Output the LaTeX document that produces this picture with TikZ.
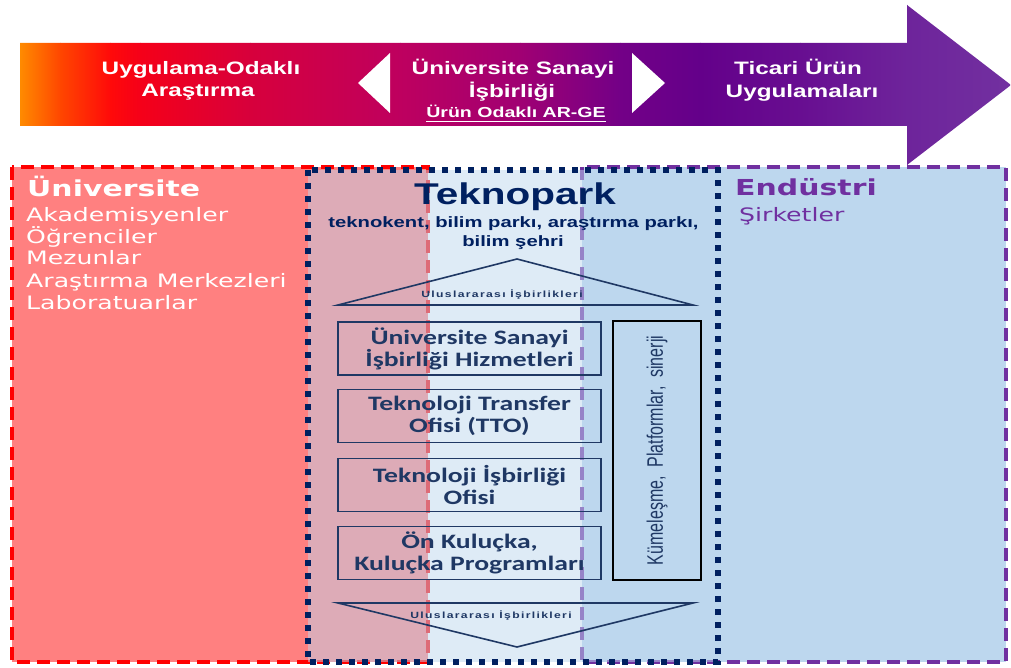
\documentclass[tikz,border=0pt]{standalone}
\usepackage{fontspec}
\usepackage{graphicx}
\setmainfont{Liberation Sans}
\newfontfamily\arialS{Liberation Sans}[FakeStretch=1.35]
\newfontfamily\verdS{DejaVu Sans}[FakeStretch=1.36]
\newfontfamily\calS{Carlito}[FakeStretch=1.35]
\newfontfamily\arialN{Liberation Sans}
\newfontfamily\arialT{Liberation Sans}[FakeStretch=1.35,LetterSpace=15]
\definecolor{navyc}{HTML}{002060}
\definecolor{boxnavy}{HTML}{1F3864}
\definecolor{purp}{HTML}{7030A0}
\definecolor{salmon}{HTML}{FF8080}
\definecolor{lblue}{HTML}{BDD7EE}
\definecolor{g0}{RGB}{255,140,0}
\definecolor{g1}{RGB}{255,70,0}
\definecolor{g2}{RGB}{255,10,10}
\definecolor{g3}{RGB}{245,0,25}
\definecolor{g4}{RGB}{215,0,60}
\definecolor{g5}{RGB}{190,0,95}
\definecolor{g6}{RGB}{160,0,115}
\definecolor{g7}{RGB}{115,0,135}
\definecolor{g8}{RGB}{100,0,138}
\definecolor{g9}{RGB}{104,14,145}
\definecolor{g10}{RGB}{110,36,155}
\definecolor{g11}{RGB}{114,48,160}
\begin{document}
\begin{tikzpicture}[x=1pt,y=-1pt,
  bannertext/.style={text=white, font=\arialS\bfseries\fontsize{18}{20}\selectfont, inner sep=0pt, anchor=base},
  unihead/.style={font=\verdS\bfseries\fontsize{22}{24}\selectfont, inner sep=0pt, anchor=base west},
  uniitem/.style={font=\verdS\fontsize{18.5}{20}\selectfont, inner sep=0pt, anchor=base west},
  teksub/.style={text=navyc, font=\arialS\bfseries\fontsize{15}{17}\selectfont, inner sep=0pt, anchor=base},
  tinytext/.style={text=boxnavy, font=\arialT\bfseries\fontsize{9}{10}\selectfont, inner sep=0pt, anchor=base},
  tbox/.style={draw=boxnavy, line width=1.6pt, minimum width=263pt, minimum height=53pt, inner sep=0pt,
     text=boxnavy, align=center, font=\calS\bfseries\fontsize{20.5}{22}\selectfont},
  redline/.style={red, line width=4pt, dash pattern=on 13pt off 7pt},
  purpline/.style={purp, line width=4pt, dash pattern=on 13pt off 7pt},
  navyline/.style={navyc, line width=5.5pt, dash pattern=on 6pt off 7pt},
  triline/.style={boxnavy, line width=1.6pt, line join=miter}
]
\useasboundingbox (0,0) rectangle (1011,668);

% ---------- lower panels ----------
\fill[salmon] (12,167) rectangle (428,662);
\draw[redline] (12,167) rectangle (428,662);
\fill[lblue] (582,167) rectangle (1006,662);
\draw[purpline] (582,167) rectangle (1006,662);
\fill[lblue, fill opacity=0.5] (308,170) rectangle (718,662);
\draw[navyline] (308,170) rectangle (718,662);

% ---------- banner arrow ----------
\begin{scope}
\clip (20,43) -- (907,43) -- (907,5) -- (1011,85) -- (907,165) -- (907,126) -- (20,126) -- cycle;
\shade[left color=g0, right color=g1] (19,0) rectangle (60.6,170);
\shade[left color=g1, right color=g2] (60,0) rectangle (110.6,170);
\shade[left color=g2, right color=g3] (110,0) rectangle (140.6,170);
\shade[left color=g3, right color=g4] (140,0) rectangle (250.6,170);
\shade[left color=g4, right color=g5] (250,0) rectangle (400.6,170);
\shade[left color=g5, right color=g6] (400,0) rectangle (520.6,170);
\shade[left color=g6, right color=g7] (520,0) rectangle (620.6,170);
\shade[left color=g7, right color=g8] (620,0) rectangle (700.6,170);
\shade[left color=g8, right color=g9] (700,0) rectangle (800.6,170);
\shade[left color=g9, right color=g10] (800,0) rectangle (907.6,170);
\shade[left color=g10, right color=g11] (907,0) rectangle (1012,170);
\end{scope}
\fill[white] (358,83) -- (390,53) -- (390,113) -- cycle;
\fill[white] (632,53) -- (665,83) -- (632,113) -- cycle;

\node[bannertext] (b1a) at (201,75) {Uygulama-Odaklı};
\node[bannertext] (b1b) at (198,97) {Araştırma};
\node[bannertext] (b2a) at (513,75) {Üniversite Sanayi};
\node[bannertext] (b2b) at (512,98) {İşbirliği};
\node[bannertext, font=\arialS\bfseries\fontsize{14.5}{16}\selectfont] (arge) at (516,118) {Ürün Odaklı AR-GE};
\draw[white, line width=1.3pt] ([yshift=-3.5pt]arge.base west) -- ([yshift=-3.5pt]arge.base east);
\node[bannertext] (b3a) at (798,75) {Ticari Ürün};
\node[bannertext] (b3b) at (802,98) {Uygulamaları};

% ---------- Universite ----------
\node[unihead, text=white] (uni) at (27,197) {Üniversite};
\node[uniitem, text=white] (u1) at (26,222) {Akademisyenler};
\node[uniitem, text=white] (u2) at (26,243.5) {Öğrenciler};
\node[uniitem, text=white] (u3) at (26,265) {Mezunlar};
\node[uniitem, text=white] (u4) at (26,287) {Araştırma Merkezleri};
\node[uniitem, text=white] (u5) at (26,309) {Laboratuarlar};

% ---------- Endustri ----------
\node[unihead, text=purp] (end) at (735,196) {Endüstri};
\node[uniitem, text=purp] (e1) at (739,222) {Şirketler};

% ---------- Teknopark ----------
\node[inner sep=0pt, anchor=base, text=navyc, font=\arialS\bfseries\fontsize{30}{32}\selectfont] (tek) at (515,205) {Teknopark};
\node[teksub] (ts1) at (513.5,228) {teknokent, bilim parkı, araştırma parkı,};
\node[teksub] (ts2) at (513,247) {bilim şehri};

\draw[triline] (338,305) -- (517,259) -- (693,305) -- cycle;
\node[tinytext] (up) at (502,297) {Uluslararası İşbirlikleri};
\draw[triline] (338,603) -- (693,603) -- (517,647) -- cycle;
\node[tinytext] (down) at (491,618) {Uluslararası İşbirlikleri};

\node[tbox] (k1) at (469.5,348.5) {Üniversite Sanayi\\İşbirliği Hizmetleri};
\node[tbox] (k2) at (469.5,416) {Teknoloji Transfer\\Ofisi (TTO)};
\node[tbox] (k3) at (469.5,485) {Teknoloji İşbirliği\\Ofisi};
\node[tbox] (k4) at (469.5,553) {Ön Kuluçka,\\Kuluçka Programları};

\node[draw=black, line width=1.8pt, minimum width=88pt, minimum height=259pt, inner sep=0pt] (side) at (657,450.5) {};
\node[rotate=90, inner sep=0pt, text=boxnavy, font=\arialN\fontsize{16}{18}\selectfont] (sidetext) at (side.center) {\scalebox{1}[1.4]{Kümeleşme,\ \ Platformlar,\ \ sinerji}};
\end{tikzpicture}
\end{document}
